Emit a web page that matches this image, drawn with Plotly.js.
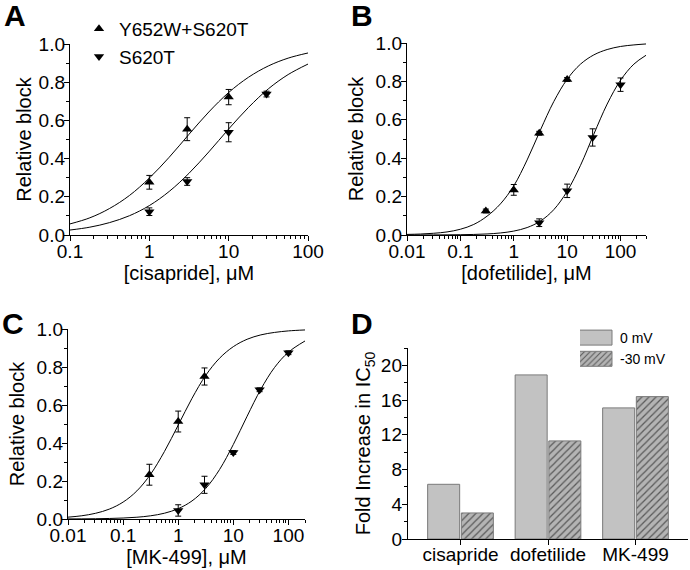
<!DOCTYPE html>
<html>
<head>
<meta charset="utf-8">
<script src="https://cdn.plot.ly/plotly-3.0.1.min.js"></script>
<style>
  body { margin: 0; background: #fff; }
  #chart { width: 690px; height: 570px; }
</style>
</head>
<body>
<div id="chart"></div>
<script>
/* --- data --- */

// A: cisapride
const cisDblConc = [1, 3, 10];
const cisDblBlock = [0.276, 0.554, 0.722];
const cisDblErr = [0.036, 0.06, 0.04];
const cisSglConc = [1, 3, 10, 30];
const cisSglBlock = [0.122, 0.28, 0.538, 0.738];
const cisSglErr = [0.02, 0.02, 0.05, 0.015];
const cisFitX = [0.1, 0.178, 0.316, 0.562, 1, 1.78, 3.16, 5.62, 10, 17.8, 31.6, 56.2, 100];
const cisFitDbl = [0.058, 0.090, 0.139, 0.207, 0.298, 0.407, 0.527, 0.644, 0.746, 0.826, 0.885, 0.926, 0.953];
const cisFitSgl = [0.026, 0.041, 0.065, 0.101, 0.154, 0.228, 0.323, 0.435, 0.555, 0.668, 0.765, 0.840, 0.895];

// B: dofetilide
const dofDblConc = [0.3, 1, 3, 10];
const dofDblBlock = [0.125, 0.235, 0.53, 0.81];
const dofDblErr = [0.01, 0.028, 0.01, 0.01];
const dofSglConc = [3, 10, 30, 100];
const dofSglBlock = [0.064, 0.23, 0.508, 0.783];
const dofSglErr = [0.02, 0.035, 0.045, 0.035];
const dofFitX = [0.01, 0.0178, 0.0316, 0.0562, 0.1, 0.178, 0.316, 0.562, 1, 1.78, 3.16, 5.62, 10, 17.8, 31.6, 56.2, 100, 178, 300];
const dofFitDbl = [0.003, 0.005, 0.009, 0.016, 0.030, 0.055, 0.098, 0.162, 0.256, 0.391, 0.547, 0.695, 0.811, 0.890, 0.938, 0.966, 0.982, 0.990, 0.995];
const dofFitSgl = [0.0001, 0.0002, 0.0004, 0.0008, 0.0015, 0.0029, 0.0055, 0.0106, 0.0204, 0.0388, 0.0726, 0.132, 0.228, 0.363, 0.525, 0.682, 0.806, 0.890, 0.936];

// C: MK-499
const mkDblConc = [0.3, 1, 3];
const mkDblBlock = [0.233, 0.513, 0.75];
const mkDblErr = [0.055, 0.055, 0.045];
const mkSglConc = [1, 3, 10, 30, 100];
const mkSglBlock = [0.045, 0.18, 0.35, 0.68, 0.875];
const mkSglErr = [0.03, 0.045, 0.01, 0.01, 0.01];
const mkFitX = [0.01, 0.0178, 0.0316, 0.0562, 0.1, 0.178, 0.316, 0.562, 1, 1.78, 3.16, 5.62, 10, 17.8, 31.6, 56.2, 100, 200];
const mkFitDbl = [0.0097, 0.0171, 0.030, 0.052, 0.089, 0.148, 0.236, 0.355, 0.494, 0.635, 0.756, 0.846, 0.907, 0.946, 0.969, 0.982, 0.990, 0.995];
const mkFitSgl = [0.0005, 0.0008, 0.0015, 0.0028, 0.0051, 0.0093, 0.0169, 0.0304, 0.0543, 0.0951, 0.161, 0.260, 0.392, 0.541, 0.683, 0.798, 0.878, 0.937];

// D: fold increase in IC50
const drugs = ['cisapride', 'dofetilide', 'MK-499'];
const fold0mV = [6.3, 18.9, 15.1];
const foldM30mV = [3.0, 11.3, 16.4];

const seriesNames = ['Y652W+S620T', 'S620T'];

/* --- styling --- */
const FONT = 'Arial, "Liberation Sans", sans-serif';
const TICK_FONT = { family: FONT, size: 19, color: '#000' };
const TITLE_FONT = { family: FONT, size: 20, color: '#000' };

function errBars(arr) {
  return { type: 'data', array: arr, visible: true, color: '#000', thickness: 1, width: 3 };
}

function pointTrace(x, y, err, symbol, ax, name, show) {
  return {
    x: x, y: y, xaxis: 'x' + ax, yaxis: 'y' + ax,
    type: 'scatter', mode: 'markers', name: name, showlegend: show,
    marker: { symbol: symbol, size: 9, color: '#000' },
    error_y: errBars(err),
  };
}

function fitTrace(x, y, ax) {
  return {
    x: x, y: y, xaxis: 'x' + ax, yaxis: 'y' + ax,
    type: 'scatter', mode: 'lines', showlegend: false, hoverinfo: 'skip',
    line: { color: '#000', width: 1, shape: 'spline', smoothing: 1 },
  };
}

function logMinor(lo, hi) {
  const vals = [];
  for (let e = lo; e < hi; e++) {
    for (let m = 2; m <= 9; m++) vals.push(m * Math.pow(10, e));
  }
  return vals;
}

function logAxis(domain, range, tickvals, title) {
  return {
    type: 'log', domain: domain, range: range,
    showline: true, linecolor: '#000', linewidth: 1.2, mirror: false,
    showgrid: false, zeroline: false, automargin: false,
    ticks: 'outside', ticklen: 5, tickwidth: 1, tickcolor: '#000',
    tickmode: 'array', tickvals: tickvals, ticktext: tickvals.map(String),
    tickfont: TICK_FONT, ticklabelstandoff: -6,
    minor: { ticks: 'outside', ticklen: 3, tickwidth: 1, tickcolor: '#000',
             tickmode: 'array', tickvals: logMinor(-2, 3), showgrid: false },
    title: { text: title, font: TITLE_FONT, standoff: 3 },
  };
}

function blockAxis(domain, standoff) {
  return {
    domain: domain, range: [0, 1],
    showline: true, linecolor: '#000', linewidth: 1.2,
    showgrid: false, zeroline: false, automargin: false,
    ticks: 'outside', ticklen: 5, tickwidth: 1, tickcolor: '#000',
    tickmode: 'linear', tick0: 0, dtick: 0.2, tickformat: '.1f',
    tickfont: TICK_FONT, ticklabelstandoff: -5,
    minor: { ticks: 'outside', ticklen: 3, tickwidth: 1, tickcolor: '#000', dtick: 0.1, showgrid: false },
    title: { text: 'Relative block', font: TITLE_FONT, standoff: standoff },
  };
}

const W = 690, H = 570;
const dx = (a, b) => [a / W, b / W];
const dy = (top, bottom) => [(H - bottom) / H, (H - top) / H];

const traces = [
  fitTrace(cisFitX, cisFitDbl, ''),
  fitTrace(cisFitX, cisFitSgl, ''),
  pointTrace(cisDblConc, cisDblBlock, cisDblErr, 'triangle-up', '', seriesNames[0], true),
  pointTrace(cisSglConc, cisSglBlock, cisSglErr, 'triangle-down', '', seriesNames[1], true),

  fitTrace(dofFitX, dofFitDbl, '2'),
  fitTrace(dofFitX, dofFitSgl, '2'),
  pointTrace(dofDblConc, dofDblBlock, dofDblErr, 'triangle-up', '2', seriesNames[0], false),
  pointTrace(dofSglConc, dofSglBlock, dofSglErr, 'triangle-down', '2', seriesNames[1], false),

  fitTrace(mkFitX, mkFitDbl, '3'),
  fitTrace(mkFitX, mkFitSgl, '3'),
  pointTrace(mkDblConc, mkDblBlock, mkDblErr, 'triangle-up', '3', seriesNames[0], false),
  pointTrace(mkSglConc, mkSglBlock, mkSglErr, 'triangle-down', '3', seriesNames[1], false),

  {
    x: drugs, y: fold0mV, name: '0 mV', type: 'bar', xaxis: 'x4', yaxis: 'y4', legend: 'legend2',
    marker: { color: '#c2c2c2', line: { color: '#7a7a7a', width: 1 } },
  },
  {
    x: drugs, y: foldM30mV, name: '-30 mV', type: 'bar', xaxis: 'x4', yaxis: 'y4', legend: 'legend2',
    marker: {
      color: '#ababab', line: { color: '#7a7a7a', width: 1 },
      pattern: { shape: '/', bgcolor: '#b4b4b4', fgcolor: '#5a5a5a', size: 5, solidity: 0.25 },
    },
  },
];

const layout = {
  width: W, height: H,
  margin: { l: 0, r: 0, t: 0, b: 0 },
  paper_bgcolor: '#fff', plot_bgcolor: '#fff',
  font: { family: FONT, color: '#000', size: 19 },
  barmode: 'group', bargap: 0.23, bargroupgap: 0.05,

  xaxis: Object.assign(logAxis(dx(70, 308), [-1, 2], [0.1, 1, 10, 100], '[cisapride], \u03bcM'), { anchor: 'y' }),
  yaxis: Object.assign(blockAxis(dy(44, 235), 1), { anchor: 'x' }),

  xaxis2: Object.assign(logAxis(dx(407, 646), [-2, Math.log10(300)], [0.01, 0.1, 1, 10, 100], '[dofetilide], \u03bcM'), { anchor: 'y2' }),
  yaxis2: Object.assign(blockAxis(dy(43, 235), 6), { anchor: 'x2' }),

  xaxis3: Object.assign(logAxis(dx(68, 305), [-2, Math.log10(200)], [0.01, 0.1, 1, 10, 100], '[MK-499], \u03bcM'), { anchor: 'y3' }),
  yaxis3: Object.assign(blockAxis(dy(329, 519), 6), { anchor: 'x3' }),

  xaxis4: {
    domain: dx(408, 688), anchor: 'y4', type: 'category', range: [-0.6, 2.6],
    showline: true, linecolor: '#000', linewidth: 1.2, showgrid: false, zeroline: false, automargin: false,
    ticks: 'outside', ticklen: 5, tickwidth: 1, tickcolor: '#000', tickfont: TICK_FONT,
    ticklabelstandoff: -7,
  },
  yaxis4: {
    domain: dy(348, 539), anchor: 'x4', range: [0, 22],
    showline: true, linecolor: '#000', linewidth: 1.2, showgrid: false, zeroline: false, automargin: false,
    ticks: 'outside', ticklen: 5, tickwidth: 1, tickcolor: '#000',
    tickmode: 'linear', tick0: 0, dtick: 4, tickfont: TICK_FONT, ticklabelstandoff: -4,
    minor: { ticks: 'outside', ticklen: 3, tickwidth: 1, tickcolor: '#000', dtick: 2, showgrid: false },
    title: { text: 'Fold Increase in IC<sub>50</sub>', font: TITLE_FONT, standoff: 4 },
  },

  legend: {
    x: 79 / W, y: 1 - 10 / H, xanchor: 'left', yanchor: 'top',
    bgcolor: 'rgba(0,0,0,0)', font: { family: FONT, size: 19, color: '#000' },
    tracegroupgap: 0, itemwidth: 30,
  },
  legend2: {
    x: 580 / W, y: 1 - 322 / H, xanchor: 'left', yanchor: 'top',
    bgcolor: 'rgba(0,0,0,0)', font: { family: FONT, size: 14, color: '#000' },
    tracegroupgap: 0, itemwidth: 30,
  },

  annotations: [
    ['A', 15, 16], ['B', 362, 16], ['C', 13, 323], ['D', 362, 323],
  ].map(([t, px, py]) => ({
    text: '<b>' + t + '</b>', xref: 'paper', yref: 'paper',
    x: px / W, y: 1 - py / H, xanchor: 'center', yanchor: 'middle',
    showarrow: false, font: { family: FONT, size: 30, color: '#000' },
  })),
};

Plotly.newPlot('chart', traces, layout, { displayModeBar: false, staticPlot: true }).then(gd => {
  // wider legend swatches for the bar legend, as in the original figure
  gd.querySelectorAll('g.legend2 g.legendpoints path').forEach(p => {
    p.setAttribute('d', 'M12,7.5H-22V-7.5H12Z');
  });
});
</script>
</body>
</html>
